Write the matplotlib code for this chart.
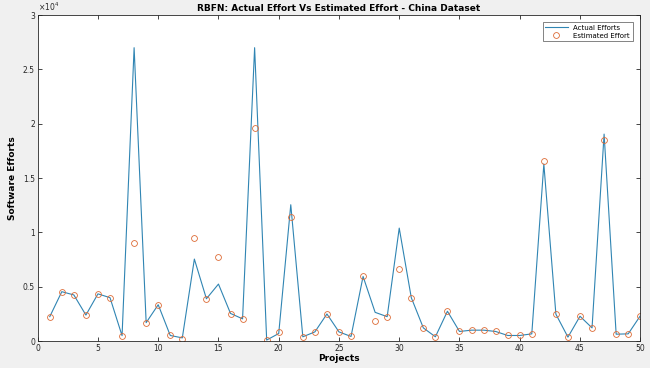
import matplotlib
matplotlib.use("Agg")
import matplotlib.pyplot as plt
from matplotlib.ticker import FuncFormatter

projects = list(range(1, 51))
actual = [2250, 4550, 4250, 2400, 4350, 4000, 500, 27000, 1700, 3350,
          520, 300, 7550, 3900, 5250, 2550, 2050, 27000, 100, 700,
          12550, 400, 850, 2500, 850, 430, 5950, 2650, 2250, 10400,
          4000, 1220, 400, 2750, 890, 1010, 1010, 890, 520, 520,
          670, 16300, 2480, 370, 2290, 1220, 19050, 640, 670, 2320]
estimated = [2250, 4550, 4250, 2400, 4350, 4000, 500, 9000, 1700, 3350,
             520, 180, 9450, 3880, 7730, 2540, 2080, 19600, 90, 850,
             11430, 400, 850, 2500, 850, 430, 5960, 1860, 2260, 6600,
             4000, 1220, 400, 2750, 890, 1010, 1010, 890, 520, 520,
             670, 16570, 2480, 370, 2290, 1220, 18550, 640, 670, 2320]

fig = plt.figure(figsize=(6.5, 3.68), dpi=100, facecolor="#f0f0f0")
ax = fig.add_axes([0.058, 0.073, 0.927, 0.886])
ax.set_facecolor("white")

ax.plot(projects, actual, color="#3085b3", lw=0.8, label="Actual Efforts")
ax.plot(projects, estimated, linestyle="none", marker="o", markersize=4.2,
        markerfacecolor="none", markeredgecolor="#dd6a35", markeredgewidth=0.6,
        label="Estimated Effort")

ax.set_xlim(0, 50)
ax.set_ylim(0, 30000)
ax.set_xticks(range(0, 51, 5))
ax.set_yticks([i * 5000 for i in range(7)])
ax.yaxis.set_major_formatter(FuncFormatter(lambda v, p: "%g" % (v / 1e4)))
ax.tick_params(direction="in", top=True, right=True, labelsize=5.5,
               length=3, width=0.6, colors="#262626", pad=2)
for s in ax.spines.values():
    s.set_linewidth(0.6)
    s.set_color("#262626")

ax.text(0.0, 1.005, r"$\times10^4$", transform=ax.transAxes, fontsize=5.5,
        ha="left", va="bottom", color="#262626")
ax.set_title("RBFN: Actual Effort Vs Estimated Effort - China Dataset",
             fontsize=6.5, fontweight="bold", pad=3)
ax.set_xlabel("Projects", fontsize=6.5, fontweight="bold", labelpad=1)
ax.set_ylabel("Software Efforts", fontsize=6.5, fontweight="bold", labelpad=4)

leg = ax.legend(loc="upper right", fontsize=5, frameon=True, fancybox=False,
                edgecolor="#262626", borderpad=0.4, handlelength=3.2,
                labelspacing=0.3, bbox_to_anchor=(0.993, 0.99))
leg.get_frame().set_linewidth(0.5)

fig.savefig("out.png", dpi=100, facecolor=fig.get_facecolor())
